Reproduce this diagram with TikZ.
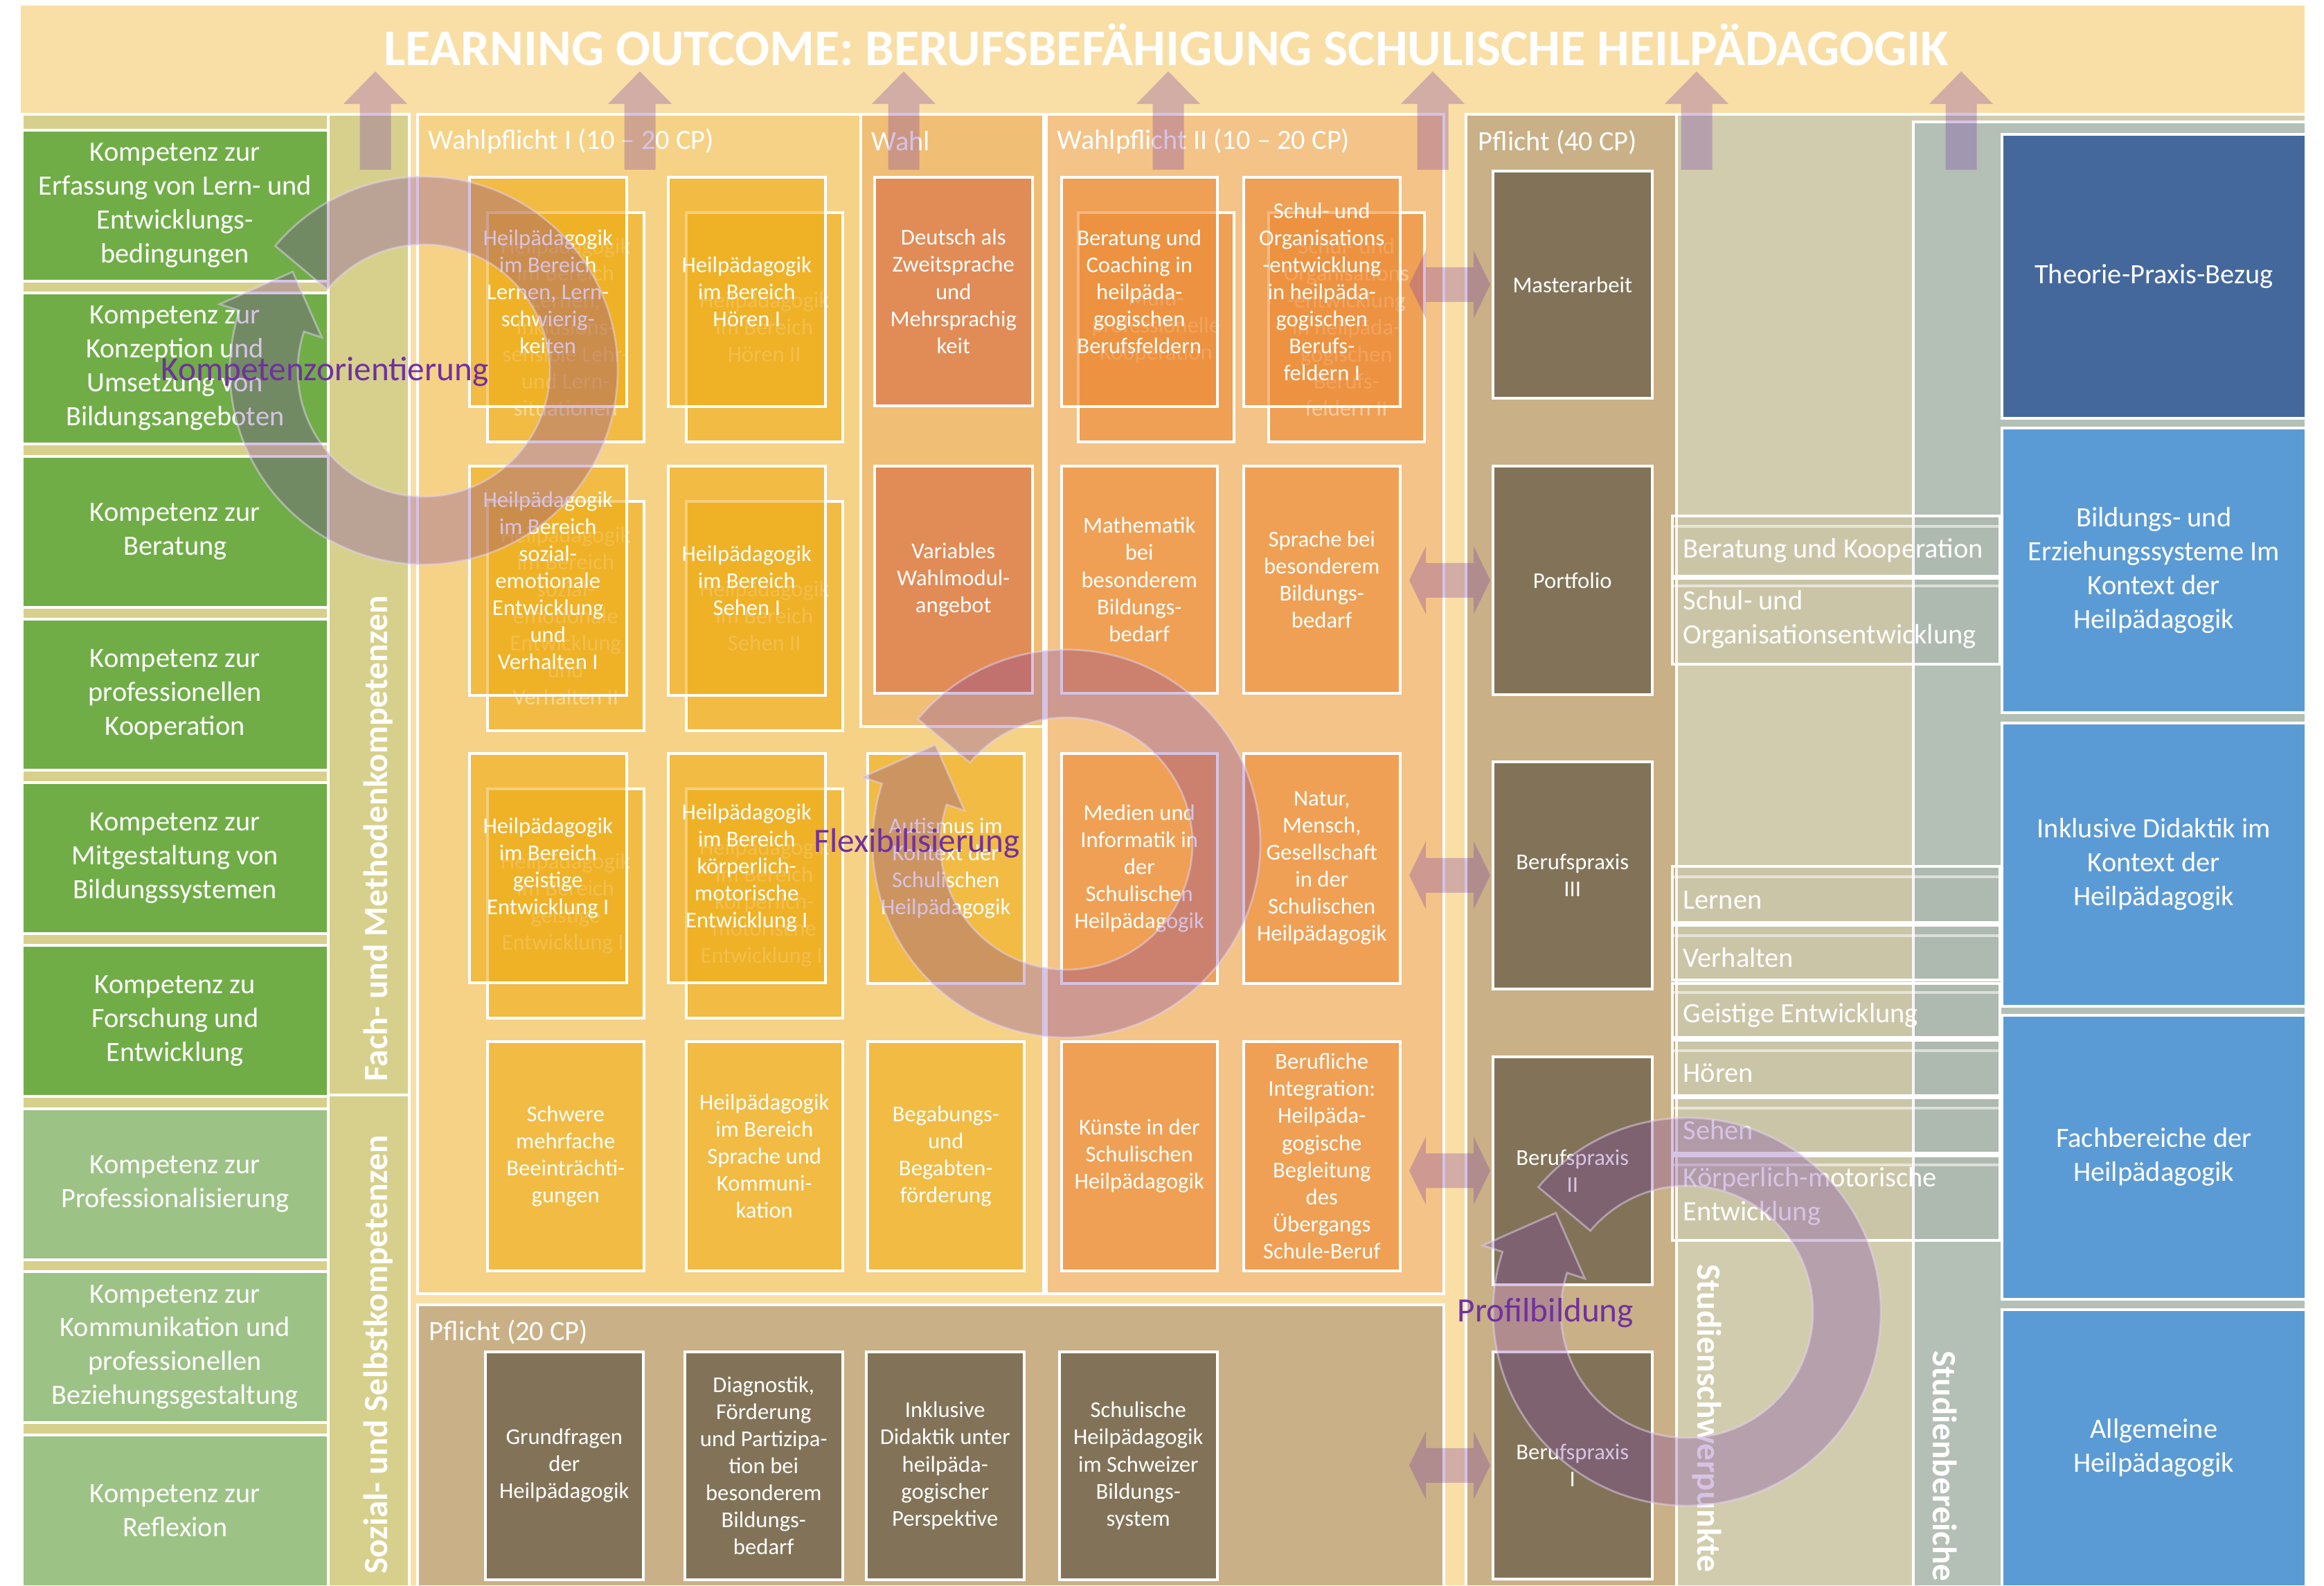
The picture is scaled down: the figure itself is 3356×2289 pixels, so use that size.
\documentclass[tikz,border=0pt]{standalone}
\usepackage{fontspec}
\setmainfont{Carlito}
\usetikzlibrary{calc}
\definecolor{bgor}{RGB}{249,223,166}
\definecolor{olivec}{RGB}{215,208,141}
\definecolor{wpic}{RGB}{246,210,134}
\definecolor{wahlc}{RGB}{240,190,117}
\definecolor{wpiic}{RGB}{244,195,135}
\definecolor{pfc}{RGB}{201,176,134}
\definecolor{sspc}{RGB}{210,204,174}
\definecolor{sbrc}{RGB}{180,191,181}
\definecolor{ybc}{RGB}{238,169,15}
\definecolor{obc}{RGB}{237,138,51}
\definecolor{wbc}{RGB}{225,139,86}
\definecolor{pbc}{RGB}{130,115,88}
\definecolor{gbc}{RGB}{112,173,71}
\definecolor{lgbc}{RGB}{157,194,134}
\definecolor{bbc}{RGB}{68,104,156}
\definecolor{lbbc}{RGB}{91,155,213}
\definecolor{ovc}{RGB}{120,59,167}
\definecolor{ringedge}{RGB}{228,214,242}
\definecolor{rlc}{RGB}{112,48,160}
\newcommand\fsz[2]{\fontsize{#1}{#2}\selectfont}
% name, x, y, w, h, style, text
\newcommand\bx[7]{\node[#6, anchor=north west, minimum width={#4*0.1mm}, minimum height={#5*0.1mm}] (#1) at (#2,#3) {#7};}
\newcommand\uparr[1]{\path[ovl] ({#1-22.5},245) -- ({#1-22.5},150) -- ({#1-46},150) -- (#1,103) -- ({#1+46},150) -- ({#1+22.5},150) -- ({#1+22.5},245) -- cycle;}
\newcommand\dblarr[1]{\path[ovl] ($(#1.west)+(-2,0)$) -- ($(#1.west)+(-26,-49)$) -- ($(#1.west)+(-26,-25)$) -- ($(#1.west)+(-95,-25)$) -- ($(#1.west)+(-95,-49)$) -- ($(#1.west)+(-119,0)$) -- ($(#1.west)+(-95,49)$) -- ($(#1.west)+(-95,25)$) -- ($(#1.west)+(-26,25)$) -- ($(#1.west)+(-26,49)$) -- cycle;}
\newcommand\ringarrow[2]{\begin{scope}[shift={(#1,#2)}, yscale=-1]
\path[ringst] (140:280) arc[start angle=140, end angle=-198, radius=280] -- (-198:310) -- (-217:237) -- (-198:155) -- (-198:182) arc[start angle=-198, end angle=140, radius=182] -- cycle;
\end{scope}}
\tikzset{
 pnl/.style={draw=white, line width=1pt, inner sep=0pt},
 bxs/.style={draw=white, line width=1pt, inner sep=0pt, align=center, text=white, font=\fsz{9.3}{11.1}},
 ybx/.style={bxs, fill=ybc, fill opacity=0.55, text opacity=1},
 ybk/.style={bxs, fill=ybc, fill opacity=0.55, text opacity=0.45},
 obx/.style={bxs, fill=obc, fill opacity=0.6, text opacity=1},
 obk/.style={bxs, fill=obc, fill opacity=0.6, text opacity=0.45},
 wbx/.style={bxs, fill=wbc},
 pbx/.style={bxs, fill=pbc},
 gbx/.style={bxs, fill=gbc, font=\fsz{11.5}{13.9}},
 lgbx/.style={bxs, fill=lgbc, font=\fsz{11.5}{13.9}},
 bbx/.style={bxs, fill=bbc, font=\fsz{11.5}{13.9}},
 lbbx/.style={bxs, fill=lbbc, font=\fsz{11.5}{13.9}},
 lbl/.style={text=white, inner sep=0pt, font=\fsz{11.5}{13.9}, anchor=west, align=left},
 vlab/.style={text=white, inner sep=0pt, font=\fsz{14}{16}\bfseries},
 ovl/.style={fill=ovc, fill opacity=0.3},
 ringst/.style={fill=ovc, fill opacity=0.3, draw=ringedge, draw opacity=0.5, line width=0.8pt},
 rlab/.style={text=rlc, inner sep=0pt, font=\fsz{14}{16}},
 srow/.style={draw=white, line width=1pt, fill=black, fill opacity=0.03, inner sep=0pt},
 sline/.style={draw=white, draw opacity=0.55, line width=1pt},
}
\begin{document}
\begin{tikzpicture}[x=0.1mm,y=-0.1mm]
\useasboundingbox (0,0) rectangle (3356,2289);
\fill[white] (0,0) rectangle (3356,2289);
\fill[bgor] (30,8) rectangle (3328,2289);
\node[font=\fsz{21.1}{25}\bfseries, text=white, inner sep=0pt] (title) at (1684,65) {LEARNING OUTCOME: BERUFSBEFÄHIGUNG SCHULISCHE HEILPÄDAGOGIK};
% panels
\bx{kpanel}{30}{163}{559}{2126}{pnl, fill=olivec}{}
\bx{fachstrip}{472}{163}{117}{1416}{pnl}{}
\bx{sozstrip}{472}{1579}{117}{710}{pnl}{}
\bx{wp1}{601}{163}{904}{1703}{pnl, fill=wpic}{}
\bx{wahl}{1241}{163}{264}{884}{pnl, fill=wahlc}{}
\bx{wp2}{1509}{163}{574}{1703}{pnl, fill=wpiic}{}
\bx{pf20}{601}{1882}{1482}{407}{pnl, fill=pfc}{}
\bx{pf40}{2115}{163}{304}{2126}{pnl, fill=pfc}{}
\bx{ssp}{2419}{163}{909}{2126}{pnl, fill=sspc}{}
\bx{sbr}{2761}{174}{567}{2115}{pnl, fill=sbrc}{}
% panel labels
\node[lbl] (lwp1) at (618,204) {Wahlpflicht I (10 – 20 CP)};
\node[lbl] (lwahl) at (1258,204) {Wahl};
\node[lbl] (lwp2) at (1526,204) {Wahlpflicht II (10 – 20 CP)};
\node[lbl] (lpf40) at (2134,206) {Pflicht (40 CP)};
\node[lbl] (lpf20) at (619,1923) {Pflicht (20 CP)};
% competence boxes
\bx{k1}{30}{186}{442}{218}{gbx}{Kompetenz zur\\Erfassung von Lern- und\\Entwicklungs-\\bedingungen}
\bx{k2}{30}{421}{442}{218}{gbx}{Kompetenz zur\\Konzeption und\\Umsetzung von\\Bildungsangeboten}
\bx{k3}{30}{657}{442}{218}{gbx}{Kompetenz zur\\Beratung}
\bx{k4}{30}{892}{442}{218}{gbx}{Kompetenz zur\\professionellen\\Kooperation}
\bx{k5}{30}{1128}{442}{218}{gbx}{Kompetenz zur\\Mitgestaltung von\\Bildungssystemen}
\bx{k6}{30}{1363}{442}{218}{gbx}{Kompetenz zu\\Forschung und\\Entwicklung}
\bx{k7}{30}{1599}{442}{218}{lgbx}{Kompetenz zur\\Professionalisierung}
\bx{k8}{30}{1834}{442}{218}{lgbx}{Kompetenz zur\\Kommunikation und\\professionellen\\Beziehungsgestaltung}
\bx{k9}{30}{2070}{442}{219}{lgbx}{Kompetenz zur\\Reflexion}
% Wahlpflicht I
\bx{a1b}{702}{305}{226}{331}{ybk}{Heilpädagogik\\im Bereich\\Lernen,\\Inklusions-\\sensible Lehr-\\und Lern-\\situationen}
\bx{a1}{676}{254}{227}{331}{ybx}{Heilpädagogik\\im Bereich\\Lernen, Lern-\\schwierig-\\keiten}
\bx{b1b}{989}{305}{226}{331}{ybk}{Heilpädagogik\\im Bereich\\Hören II}
\bx{b1}{963}{254}{227}{331}{ybx}{Heilpädagogik\\im Bereich\\Hören I}
\bx{a2b}{702}{722}{226}{331}{ybk}{Heilpädagogik\\im Bereich\\sozial-\\emotionale\\Entwicklung\\und\\Verhalten II}
\bx{a2}{676}{671}{227}{331}{ybx}{Heilpädagogik\\im Bereich\\sozial-\\emotionale\\Entwicklung\\und\\Verhalten I}
\bx{b2b}{989}{722}{226}{331}{ybk}{Heilpädagogik\\im Bereich\\Sehen II}
\bx{b2}{963}{671}{227}{331}{ybx}{Heilpädagogik\\im Bereich\\Sehen I}
\bx{a3b}{702}{1137}{226}{331}{ybk}{Heilpädagogik\\im Bereich\\geistige\\Entwicklung II}
\bx{a3}{676}{1086}{227}{331}{ybx}{Heilpädagogik\\im Bereich\\geistige\\Entwicklung I}
\bx{b3b}{989}{1137}{226}{331}{ybk}{Heilpädagogik\\im Bereich\\körperlich-\\motorische\\Entwicklung II}
\bx{b3}{963}{1086}{227}{331}{ybx}{Heilpädagogik\\im Bereich\\körperlich-\\motorische\\Entwicklung I}
\bx{a4}{702}{1502}{226}{331}{ybx}{Schwere\\mehrfache\\Beeinträchti-\\gungen}
\bx{b4}{989}{1502}{226}{331}{ybx}{Heilpädagogik\\im Bereich\\Sprache und\\Kommuni-\\kation}
\bx{c3}{1251}{1086}{226}{332}{ybx}{Autismus im\\Kontext der\\Schulischen\\Heilpädagogik}
\bx{c4}{1251}{1502}{226}{331}{ybx}{Begabungs-\\und\\Begabten-\\förderung}
% Wahl
\bx{w1}{1261}{254}{228}{330}{wbx}{Deutsch als\\Zweitsprache\\und\\Mehrsprachig\\keit}
\bx{w2}{1261}{671}{228}{328}{wbx}{Variables\\Wahlmodul-\\angebot}
% Wahlpflicht II
\bx{d1b}{1555}{305}{225}{331}{obk}{Multi-\\professionelle\\Kooperation}
\bx{d1}{1531}{254}{225}{331}{obx}{Beratung und\\Coaching in\\heilpäda-\\gogischen\\Berufsfeldern}
\bx{e1b}{1830}{305}{225}{331}{obk}{Schul- und\\Organisations\\-entwicklung\\in heilpäda-\\gogischen\\Berufs-\\feldern II}
\bx{e1}{1794}{254}{226}{331}{obx}{Schul- und\\Organisations\\-entwicklung\\in heilpäda-\\gogischen\\Berufs-\\feldern I}
\bx{d2}{1531}{671}{225}{328}{obx}{Mathematik\\bei\\besonderem\\Bildungs-\\bedarf}
\bx{e2}{1794}{671}{226}{328}{obx}{Sprache bei\\besonderem\\Bildungs-\\bedarf}
\bx{d3}{1531}{1086}{225}{332}{obx}{Medien und\\Informatik in\\der\\Schulischen\\Heilpädagogik}
\bx{e3}{1794}{1086}{226}{332}{obx}{Natur,\\Mensch,\\Gesellschaft\\in der\\Schulischen\\Heilpädagogik}
\bx{d4}{1531}{1502}{225}{331}{obx}{Künste in der\\Schulischen\\Heilpädagogik}
\bx{e4}{1794}{1502}{226}{331}{obx}{Berufliche\\Integration:\\Heilpäda-\\gogische\\Begleitung\\des\\Übergangs\\Schule-Beruf}
% Pflicht 20
\bx{p1}{699}{1950}{228}{329}{pbx}{Grundfragen\\der\\Heilpädagogik}
\bx{p2}{987}{1950}{228}{329}{pbx}{Diagnostik,\\Förderung\\und Partizipa-\\tion bei\\besonderem\\Bildungs-\\bedarf}
\bx{p3}{1249}{1950}{228}{329}{pbx}{Inklusive\\Didaktik unter\\heilpäda-\\gogischer\\Perspektive}
\bx{p4}{1528}{1950}{228}{329}{pbx}{Schulische\\Heilpädagogik\\im Schweizer\\Bildungs-\\system}
% Pflicht 40
\bx{m1}{2154}{245}{230}{328}{pbx}{Masterarbeit}
\bx{m2}{2154}{671}{230}{330}{pbx}{Portfolio}
\bx{m3}{2154}{1098}{230}{328}{pbx}{Berufspraxis\\III}
\bx{m4}{2154}{1524}{230}{329}{pbx}{Berufspraxis\\II}
\bx{m5}{2154}{1950}{230}{328}{pbx}{Berufspraxis\\I}
% Studienbereiche boxes
\bx{s1}{2889}{192}{439}{410}{bbx}{Theorie-Praxis-Bezug}
\bx{s2}{2889}{616}{439}{411}{lbbx}{Bildungs- und\\Erziehungssysteme Im\\Kontext der\\Heilpädagogik}
\bx{s3}{2889}{1042}{439}{409}{lbbx}{Inklusive Didaktik im\\Kontext der\\Heilpädagogik}
\bx{s4}{2889}{1464}{439}{410}{lbbx}{Fachbereiche der\\Heilpädagogik}
\bx{s5}{2889}{1889}{439}{400}{lbbx}{Allgemeine\\Heilpädagogik}
% Studienschwerpunkte rows
\bx{r1}{2413}{743}{473}{87}{srow}{}
\bx{r2}{2413}{833}{473}{124}{srow}{}
\bx{r3}{2413}{1249}{473}{81}{srow}{}
\bx{r4}{2413}{1334}{473}{79}{srow}{}
\bx{r5}{2413}{1418}{473}{78}{srow}{}
\bx{r6}{2413}{1500}{473}{80}{srow}{}
\bx{r7}{2413}{1583}{473}{80}{srow}{}
\bx{r8}{2413}{1667}{473}{122}{srow}{}
\foreach \yy in {760,846,1266,1351,1433,1517,1600,1682}{\draw[sline] (2413,\yy) -- (2886,\yy);}
\node[lbl] (t1) at (2430,795) {Beratung und Kooperation};
\node[lbl] (t2) at (2430,894) {Schul- und\\Organisationsentwicklung};
\node[lbl] (t3) at (2430,1300) {Lernen};
\node[lbl] (t4) at (2430,1383) {Verhalten};
\node[lbl] (t5) at (2430,1466) {Geistige Entwicklung};
\node[lbl] (t6) at (2430,1549) {Hören};
\node[lbl] (t7) at (2430,1632) {Sehen};
\node[lbl] (t8) at (2430,1727) {Körperlich-motorische\\Entwicklung};
% vertical labels
\node[vlab, rotate=90] (fachlbl) at (546,1211) {Fach- und Methodenkompetenzen};
\node[vlab, rotate=90] (sozlbl) at (546,1956) {Sozial- und Selbstkompetenzen};
\node[vlab, rotate=-90] (ssplbl) at (2465,2048) {Studienschwerpunkte};
\node[vlab, rotate=-90] (sbrlbl) at (2809,2117) {Studienbereiche};
% up arrows
\foreach \xx in {542,924,1305,1687,2069,2450,2832}{\uparr{\xx}}
% double arrows
\dblarr{m1}\dblarr{m2}\dblarr{m3}\dblarr{m4}\dblarr{m5}
% circular arrows
\ringarrow{612}{535}
\ringarrow{1540}{1218}
\ringarrow{2436}{1894}
\node[rlab] (lk) at (469,537) {Kompetenzorientierung};
\node[rlab] (lf) at (1324,1218) {Flexibilisierung};
\node[rlab] (lp) at (2232,1896) {Profilbildung};
\end{tikzpicture}
\end{document}
